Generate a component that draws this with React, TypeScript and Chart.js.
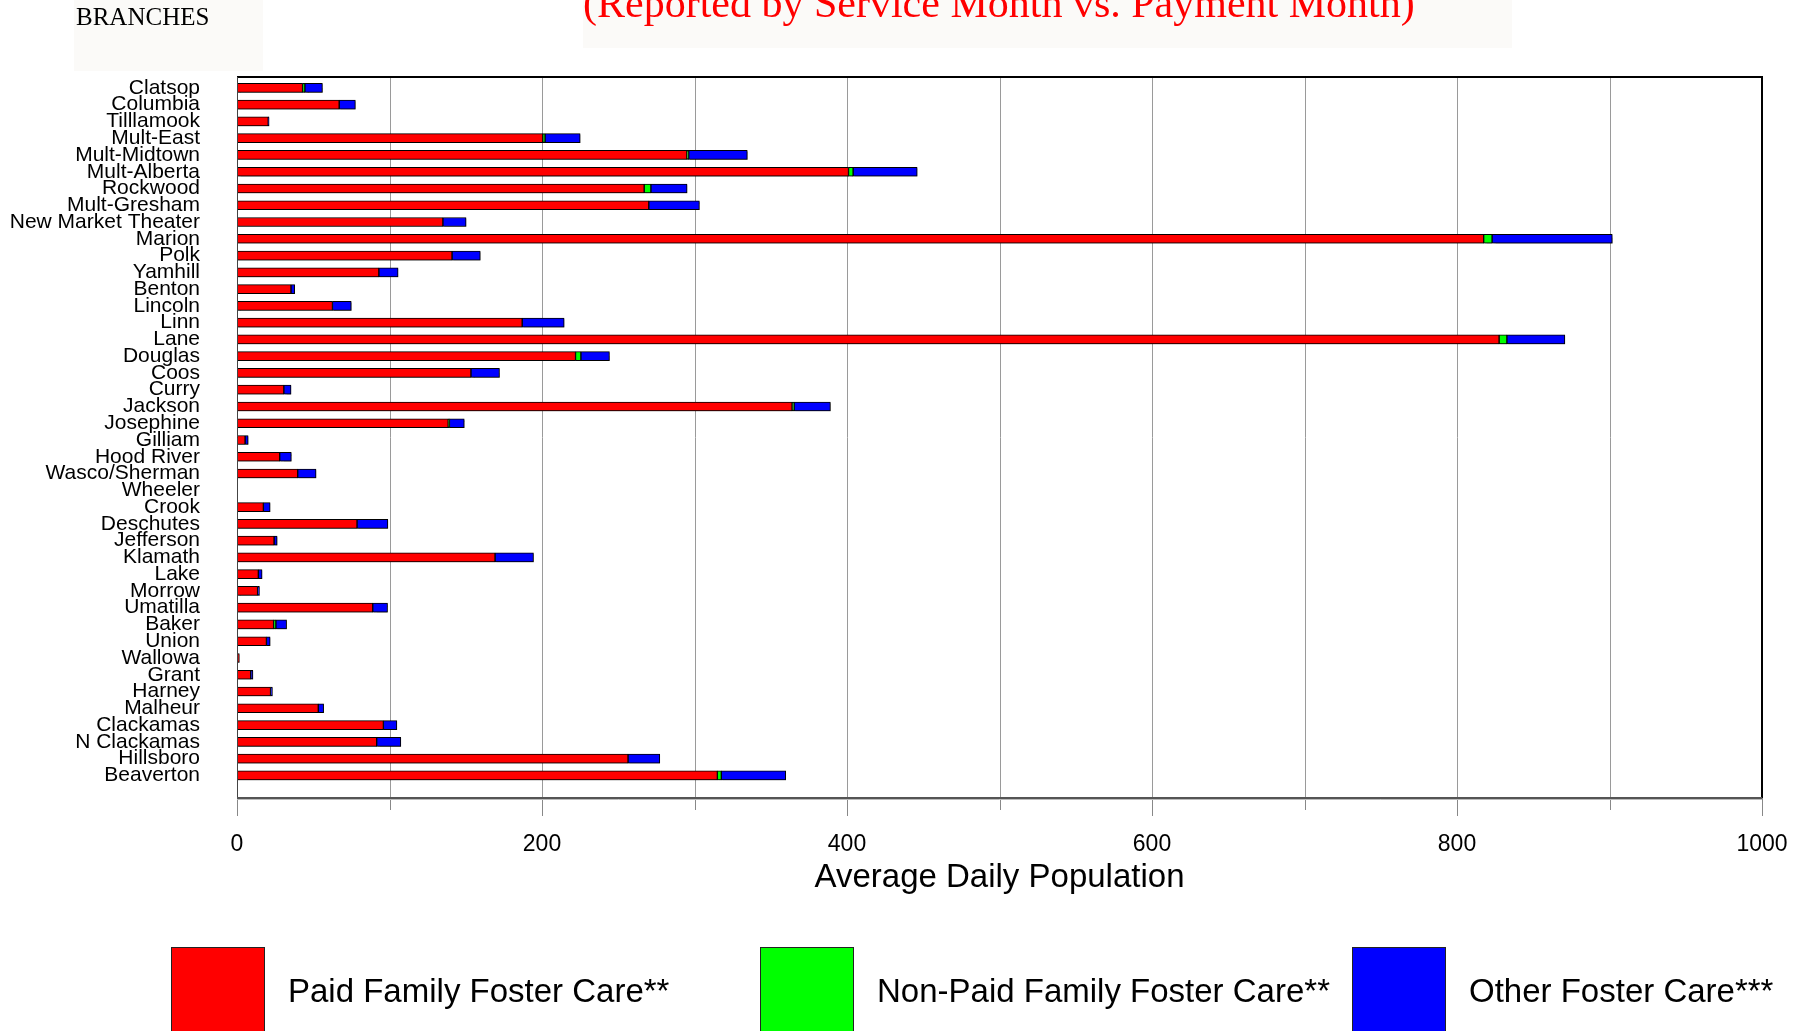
import React, { useEffect, useRef } from "react";
import { Chart, registerables } from "chart.js";

Chart.register(...registerables);

const branches = [
  "Clatsop", "Columbia", "Tilllamook", "Mult-East", "Mult-Midtown", "Mult-Alberta",
  "Rockwood", "Mult-Gresham", "New Market Theater", "Marion", "Polk", "Yamhill",
  "Benton", "Lincoln", "Linn", "Lane", "Douglas", "Coos", "Curry", "Jackson",
  "Josephine", "Gilliam", "Hood River", "Wasco/Sherman", "Wheeler", "Crook",
  "Deschutes", "Jefferson", "Klamath", "Lake", "Morrow", "Umatilla", "Baker",
  "Union", "Wallowa", "Grant", "Harney", "Malheur", "Clackamas", "N Clackamas",
  "Hillsboro", "Beaverton",
];

const paidFamily = [
  43, 67, 20.5, 200.5, 295, 401, 267, 270, 135, 817.5, 141, 93,
  35.4, 62.6, 187, 827.6, 222, 153.4, 30.7, 364,
  138.5, 5.3, 28, 39.8, null, 17.3,
  78.7, 24.3, 169.2, 14, 13.5, 89, 24,
  19.3, 1.5, 9, 22, 53.3, 96, 91.6,
  256.4, 315,
];

const nonPaidFamily = [
  1.5, null, null, 1.5, 1.2, 3, 4.4, null, null, 5.5, null, null,
  null, null, null, 5.1, 3.5, null, null, 1.3,
  0.8, null, null, null, null, null,
  null, null, null, null, null, null, 1.5,
  null, null, null, null, null, null, null,
  null, 2.6,
];

const otherFoster = [
  11.5, 10.6, 0.5, 23, 38.4, 42, 23.7, 33.2, 15.2, 78.8, 18.5, 12.6,
  2.4, 12.3, 27.5, 38, 18.7, 18.7, 4.7, 23.8,
  9.7, 2, 7.6, 12, null, 4.4,
  20.2, 2, 25.2, 2.4, 1.2, 9.7, 7,
  2.4, null, 1.4, 1.2, 3.5, 8.8, 15.8,
  20.8, 42.2,
];

const seriesNames = ["Paid Family Foster Care**", "Non-Paid Family Foster Care**", "Other Foster Care***"];
const seriesColors = ["#ff0000", "#00ff00", "#0000ff"];
const xTickValues = [0, 200, 400, 600, 800, 1000];

const W = 1796;
const H = 1031;
const FRAME_TOP = 77;
const FRAME_BOTTOM = 798;
const SANS = "'Liberation Sans', Arial, sans-serif";
const SERIF = "'Liberation Serif', 'Times New Roman', serif";

const extrasPlugin = {
  id: "extras",
  beforeDraw(chart: any) {
    const ctx = chart.ctx;
    ctx.save();
    ctx.fillStyle = "#ffffff";
    ctx.fillRect(0, 0, W, H);
    ctx.fillStyle = "#fbfaf8";
    ctx.fillRect(74, 0, 189, 71);
    ctx.fillRect(583, 0, 929, 48);
    ctx.fillStyle = "#000";
    ctx.font = `25px ${SERIF}`;
    ctx.textBaseline = "alphabetic";
    ctx.textAlign = "left";
    ctx.fillText("BRANCHES", 76, 25);
    ctx.fillStyle = "#ff0000";
    ctx.font = `42px ${SERIF}`;
    ctx.fillText("(Reported by Service Month vs. Payment Month)", 583, 17);
    ctx.restore();
  },
  beforeDatasetsDraw(chart: any) {
    const ctx = chart.ctx;
    const xs = chart.scales.x;
    ctx.save();
    // vertical grid lines
    ctx.strokeStyle = "#9a9a9a";
    ctx.lineWidth = 1;
    for (let v = 100; v < 1000; v += 100) {
      const px = Math.round(xs.getPixelForValue(v)) + 0.5;
      ctx.beginPath();
      ctx.moveTo(px, FRAME_TOP);
      ctx.lineTo(px, FRAME_BOTTOM);
      ctx.stroke();
    }
    ctx.restore();
    ctx.save();
    ctx.shadowColor = "rgba(0,0,0,0.35)";
    ctx.shadowOffsetX = 1;
    ctx.shadowOffsetY = 1;
    ctx.shadowBlur = 1;
  },
  afterDatasetsDraw(chart: any) {
    chart.ctx.restore();
  },
  afterDraw(chart: any) {
    const ctx = chart.ctx;
    const xs = chart.scales.x;
    const left = xs.getPixelForValue(0);
    const right = xs.getPixelForValue(1000);
    const top = FRAME_TOP;
    const bottom = FRAME_BOTTOM;
    ctx.save();
    ctx.strokeStyle = "#888";
    ctx.lineWidth = 1;
    for (let v = 0; v <= 1000; v += 100) {
      const px = Math.round(xs.getPixelForValue(v)) + 0.5;
      ctx.beginPath();
      ctx.moveTo(px, bottom);
      ctx.lineTo(px, bottom + (v % 200 === 0 ? 18 : 12));
      ctx.stroke();
    }
    ctx.strokeStyle = "#000";
    ctx.lineWidth = 2;
    ctx.beginPath();
    ctx.moveTo(left, top);
    ctx.lineTo(right, top);
    ctx.lineTo(right, bottom);
    ctx.stroke();
    ctx.lineWidth = 1;
    ctx.strokeStyle = "#444";
    ctx.beginPath();
    ctx.moveTo(left + 0.5, top);
    ctx.lineTo(left + 0.5, bottom);
    ctx.stroke();
    ctx.strokeStyle = "#555";
    ctx.lineWidth = 2;
    ctx.beginPath();
    ctx.moveTo(left, bottom);
    ctx.lineTo(right, bottom);
    ctx.stroke();
    ctx.strokeStyle = "#bbb";
    ctx.lineWidth = 1;
    ctx.beginPath();
    ctx.moveTo(left, bottom + 1.5);
    ctx.lineTo(right, bottom + 1.5);
    ctx.stroke();
    ctx.fillStyle = "#000";
    ctx.font = `33px ${SANS}`;
    ctx.textAlign = "center";
    ctx.textBaseline = "alphabetic";
    ctx.fillText("Average Daily Population", (left + right) / 2, 887);
    const boxX = [171, 760, 1352];
    ctx.textAlign = "left";
    ctx.font = `33px ${SANS}`;
    for (let i = 0; i < 3; i++) {
      ctx.fillStyle = seriesColors[i];
      ctx.fillRect(boxX[i], 947, 94, 100);
      ctx.strokeStyle = "#222";
      ctx.lineWidth = 1;
      ctx.strokeRect(boxX[i] + 0.5, 947.5, 93, 100);
      ctx.fillStyle = "#000";
      ctx.fillText(seriesNames[i], boxX[i] + 117, 1002);
    }
    ctx.restore();
  },
};

export default function App() {
  const canvasRef = useRef<HTMLCanvasElement | null>(null);

  useEffect(() => {
    document.body.style.margin = "0";
    document.body.style.overflow = "hidden";
    const canvas = canvasRef.current;
    if (!canvas) return;
    const datasets = [paidFamily, nonPaidFamily, otherFoster].map((d, i) => ({
      label: seriesNames[i],
      data: d,
      backgroundColor: seriesColors[i],
      borderColor: "#000",
      borderWidth: 1,
      borderSkipped: false,
      barThickness: 9,
    }));
    const chart = new Chart(canvas, {
      type: "bar",
      data: { labels: [...branches, ""], datasets },
      plugins: [extrasPlugin],
      options: {
        indexAxis: "y",
        responsive: false,
        animation: false,
        devicePixelRatio: 1,
        layout: { padding: { top: 79.5, right: 34, left: 0, bottom: 0 } },
        plugins: { legend: { display: false }, tooltip: { enabled: false }, title: { display: false } },
        scales: {
          x: {
            type: "linear",
            stacked: true,
            min: 0,
            max: 1000,
            afterFit: (s: any) => {
              s.height = H - 800.5;
              s.paddingLeft = 0;
              s.paddingRight = 0;
            },
            afterBuildTicks: (s: any) => {
              const t = [];
              for (let v = 0; v <= 1000; v += 100) t.push({ value: v });
              s.ticks = t;
            },
            ticks: {
              autoSkip: false,
              maxRotation: 0,
              padding: 30.5,
              color: "#000",
              font: { family: SANS, size: 23 },
              callback: (v: any) => (xTickValues.includes(Number(v)) ? String(v) : ""),
            },
            grid: { display: false, drawTicks: false },
            border: { display: false },
          },
          y: {
            stacked: true,
            afterFit: (s: any) => {
              s.width = 237;
              s.paddingTop = 0;
              s.paddingBottom = 0;
            },
            ticks: {
              autoSkip: false,
              padding: 37,
              color: "#000",
              font: { family: SANS, size: 21 },
            },
            grid: { display: false, drawTicks: false },
            border: { display: false },
          },
        },
      } as any,
    });
    return () => chart.destroy();
  }, []);

  return (
    <canvas ref={canvasRef} width={W} height={H} style={{ display: "block", width: W, height: H }} />
  );
}
